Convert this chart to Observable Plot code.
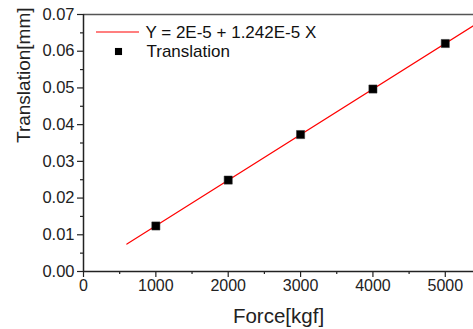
<!DOCTYPE html>
<html><head><meta charset="utf-8">
<script src="https://cdn.jsdelivr.net/npm/d3@7"></script>
<script src="https://cdn.jsdelivr.net/npm/@observablehq/plot@0.6"></script>
<style>body{margin:0;background:#fff}</style>
</head><body><div id="chart"></div>
<script>
const forces = [1000, 2000, 3000, 4000, 5000];
const translations = [0.0124, 0.0249, 0.0373, 0.0497, 0.0621];
const fitIntercept = 2e-5;
const fitSlope = 1.242e-5;
const fitRange = [600, 5400];
const xTicks = [0, 1000, 2000, 3000, 4000, 5000];
const xMinor = [500, 1500, 2500, 3500, 4500];
const yTicks = [0, 0.01, 0.02, 0.03, 0.04, 0.05, 0.06, 0.07];
const yMinor = [0.005, 0.015, 0.025, 0.035, 0.045, 0.055, 0.065];
const fitLabel = "Y = 2E-5 + 1.242E-5 X";
const seriesLabel = "Translation";

const points = forces.map((f, i) => ({x: f, y: translations[i]}));
const fit = fitRange.map(x => ({x, y: fitIntercept + fitSlope * x}));
const font = "'Liberation Sans', Arial, sans-serif";

const plot = Plot.plot({
  width: 473, height: 329,
  marginLeft: 83, marginTop: 14, marginBottom: 58, marginRight: 0,
  style: {fontFamily: font, background: "#fff", color: "#222"},
  x: {domain: [0, 5390]},
  y: {domain: [0, 0.07]},
  marks: [
    Plot.line(fit, {x: "x", y: "y", stroke: "#ff0000", strokeWidth: 1.2}),
    Plot.dot(points, {x: "x", y: "y", symbol: "square", r: 4.6, fill: "#000", stroke: "#333", strokeWidth: 0.5}),
    Plot.ruleY([0.07], {stroke: "#555", strokeWidth: 1.5}),
    Plot.axisX({ticks: xTicks, tickFormat: d => d3.format("d")(d), tickSize: 6, tickPadding: 2, fontSize: 16, label: null, strokeWidth: 1.2}),
    Plot.axisX({ticks: xMinor, text: null, tickSize: 3, label: null, strokeWidth: 1.2}),
    Plot.axisY({ticks: yTicks, tickFormat: d3.format(".2f"), tickSize: 6, tickPadding: 3, fontSize: 16.5, label: null, strokeWidth: 1.2}),
    Plot.axisY({ticks: yMinor, text: null, tickSize: 3, label: null, strokeWidth: 1.2}),
    Plot.ruleY([0], {stroke: "#222", strokeWidth: 1.5}),
    Plot.ruleX([0], {stroke: "#222", strokeWidth: 1.5}),
    Plot.text(["Force[kgf]"], {frameAnchor: "bottom", dy: 45, lineAnchor: "middle", fontSize: 20.5, fill: "#222"}),
    Plot.text(["Translation[mm]"], {frameAnchor: "left", dx: -60, rotate: -90, fontSize: 19, fill: "#222"}),
    // legend
    Plot.text([fitLabel], {frameAnchor: "top-left", dx: 62, dy: 18, lineAnchor: "middle", textAnchor: "start", fontSize: 17, fill: "#111"}),
    Plot.text([seriesLabel], {frameAnchor: "top-left", dx: 63, dy: 37, lineAnchor: "middle", textAnchor: "start", fontSize: 17, fill: "#111"}),
    Plot.dot([seriesLabel], {frameAnchor: "top-left", dx: 35, dy: 37, symbol: "square", r: 4, fill: "#000"})
  ]
});
// legend line sample
const svg = d3.select(plot);
svg.append("line").attr("x1", 96).attr("x2", 139).attr("y1", 32).attr("y2", 32).attr("stroke", "#ff0000").attr("stroke-width", 1.2);
document.getElementById("chart").append(plot);
</script></body></html>
